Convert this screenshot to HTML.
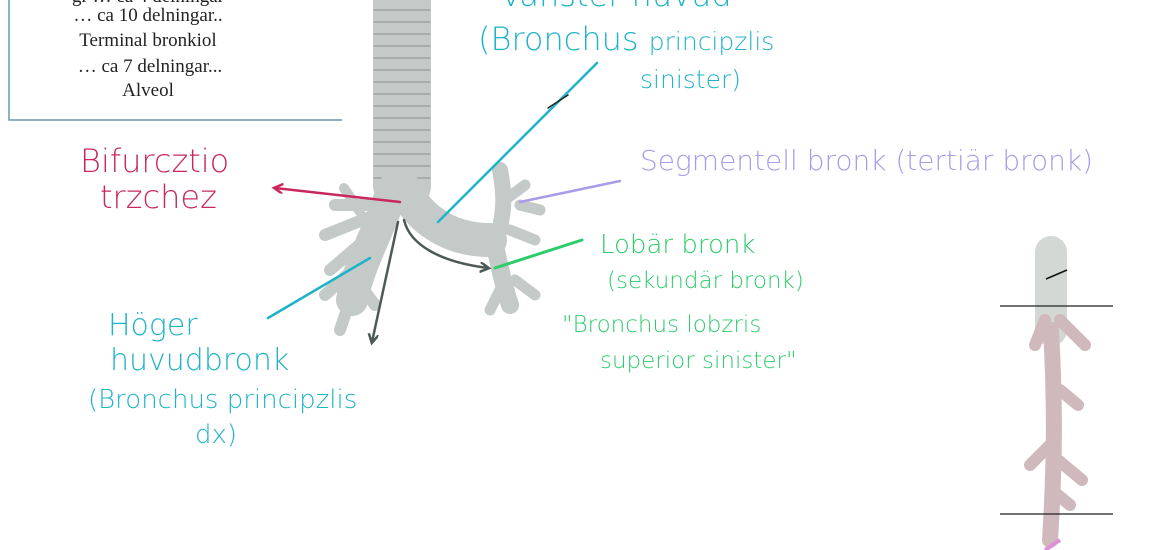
<!DOCTYPE html>
<html><head><meta charset="utf-8"><style>
body{margin:0;background:#fff;width:1170px;height:550px;overflow:hidden}
svg{display:block}
.h{font-family:"DejaVu Sans","Liberation Sans",sans-serif;font-weight:300}
.s{font-family:"Liberation Serif",serif;font-size:19px;fill:#222}
</style></head><body>
<svg width="1170" height="550" viewBox="0 0 1170 550" xmlns="http://www.w3.org/2000/svg">
<defs>
<marker id="am" markerWidth="12" markerHeight="12" refX="8" refY="5" orient="auto" markerUnits="userSpaceOnUse"><path d="M0,0 L9,5 L0,10" fill="none" stroke="#c8285e" stroke-width="2.5"/></marker>
<marker id="ag" markerWidth="12" markerHeight="12" refX="8" refY="5" orient="auto" markerUnits="userSpaceOnUse"><path d="M0,0 L9,5 L0,10" fill="none" stroke="#4c5a58" stroke-width="2.5"/></marker>
</defs>
<path d="M9,0 V120 H342" fill="none" stroke="#6a9aa8" stroke-width="1.5"/>
<text class="s" x="148" y="2" text-anchor="middle">gr … ca 4 delningar</text>
<text class="s" x="148" y="21" text-anchor="middle">… ca 10 delningar..</text>
<text class="s" x="148" y="46" text-anchor="middle">Terminal bronkiol</text>
<text class="s" x="150" y="72" text-anchor="middle">… ca 7 delningar...</text>
<text class="s" x="148" y="96" text-anchor="middle">Alveol</text>
<g stroke-linecap="round" fill="none">
<path d="M402,0 V185" stroke="#c4cac7" stroke-width="58"/>
<g stroke="#959c99" stroke-width="1.2">
<path d="M374,10h56M374,22h56M374,34h56M374,46h56M374,58h56M374,70h56M374,82h56M374,94h56M374,106h56M374,118h56M374,130h56M374,142h56M374,154h56M374,166h56M374,178h56"/>
</g>
<path d="M405,190 C420,220 450,240 490,240" stroke="#c4cac7" stroke-width="34"/>
<path d="M495,245 C505,215 505,195 500,170" stroke="#c4cac7" stroke-width="16"/>
<path d="M495,245 C500,270 505,290 510,305" stroke="#c4cac7" stroke-width="18"/>
<path d="M520,205 L540,210 M505,200 L525,185 M510,230 L535,240 M515,280 L535,295 M500,290 L490,310" stroke="#c4cac7" stroke-width="11"/>
<path d="M392,190 C380,230 360,260 352,300" stroke="#c4cac7" stroke-width="32"/>
<path d="M385,205 L335,205 M375,215 L325,235 M365,240 L330,270 M358,265 L325,295 M355,285 L340,330 M360,285 L375,305" stroke="#c4cac7" stroke-width="12"/>
<path d="M344,188 L360,212" stroke="#c4cac7" stroke-width="10"/>
</g>
<g stroke-linecap="round" fill="none">
<path d="M1051,252 V330" stroke="#d3d8d5" stroke-width="32"/>
<path d="M1051,330 C1055,400 1055,460 1050,540" stroke="#cfb9bc" stroke-width="16"/>
<path d="M1045,320 L1035,345 M1060,320 L1085,345 M1060,390 L1078,405 M1055,440 L1030,465 M1058,460 L1082,480 M1052,490 L1070,505" stroke="#cfb9bc" stroke-width="12"/>
</g>
<path d="M1000,306 H1113" stroke="#222" stroke-width="1.3"/>
<path d="M1000,514 H1113" stroke="#222" stroke-width="1.3"/>
<path d="M1046,279 L1067,270" stroke="#111" stroke-width="1.5"/>
<path d="M1045,550 L1060,540" stroke="#e090d8" stroke-width="4"/>
<g fill="none" stroke-linecap="round">
<path d="M597,63 L438,222" stroke="#1fb3c9" stroke-width="2.5"/>
<path d="M568,95 L548,108" stroke="#222" stroke-width="1.5"/>
<path d="M620,181 L520,202" stroke="#a99be8" stroke-width="2.5"/>
<path d="M582,240 L495,268" stroke="#2ccc6a" stroke-width="3"/>
<path d="M268,318 L370,258" stroke="#1fb3c9" stroke-width="2.5"/>
<path d="M400,202 L275,188" stroke="#c8285e" stroke-width="2.5" marker-end="url(#am)"/>
<path d="M398,222 L372,342" stroke="#4c5a58" stroke-width="2.5" marker-end="url(#ag)"/>
<path d="M404,220 C410,245 440,262 488,268" stroke="#4c5a58" stroke-width="2.5" marker-end="url(#ag)"/>
</g>
<g class="h">
<text x="500" y="6" font-size="32" fill="#1fb3c9">Vänster huvud</text>
<text x="478" y="50" font-size="32" fill="#1fb3c9">(Bronchus <tspan font-size="25">principzlis</tspan></text>
<text x="640" y="88" font-size="25" fill="#1fb3c9">sinister)</text>
<text x="640" y="170" font-size="28" fill="#a99be8">Segmentell bronk (tertiär bronk)</text>
<text x="600" y="253" font-size="26" fill="#2ccc6a">Lobär bronk</text>
<text x="607" y="288" font-size="23" fill="#2ccc6a">(sekundär bronk)</text>
<text x="562" y="332" font-size="23" fill="#2ccc6a">"Bronchus lobzris</text>
<text x="600" y="368" font-size="23" fill="#2ccc6a">superior sinister"</text>
<text x="80" y="172" font-size="32" fill="#c8285e">Bifurcztio</text>
<text x="100" y="208" font-size="32" fill="#c8285e">trzchez</text>
<text x="108" y="335" font-size="30" fill="#1fb3c9">Höger</text>
<text x="110" y="370" font-size="30" fill="#1fb3c9">huvudbronk</text>
<text x="88" y="408" font-size="26" fill="#1fb3c9">(Bronchus principzlis</text>
<text x="195" y="443" font-size="26" fill="#1fb3c9">dx)</text>
</g>
</svg>
</body></html>
